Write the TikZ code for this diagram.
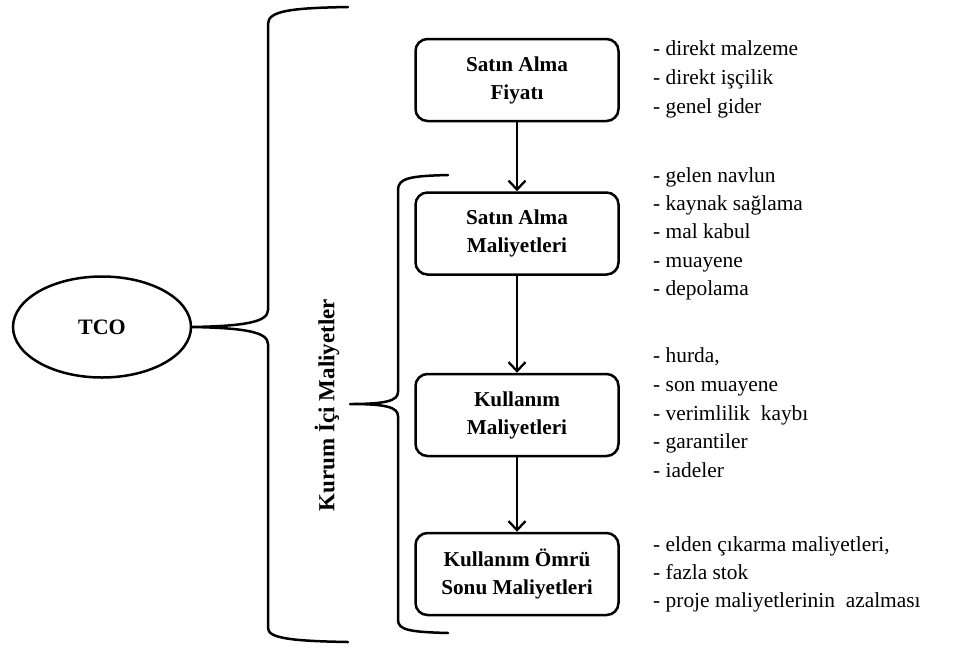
\documentclass[tikz,border=0pt]{standalone}
\usepackage{fontspec}
\setmainfont{Liberation Serif}
\usetikzlibrary{arrows.meta,shapes.geometric}
\begin{document}
\begin{tikzpicture}[x=1pt,y=-1pt,
  stage/.style={draw, line width=2.5pt, rounded corners=12pt,
    minimum width=203pt, minimum height=82pt, align=center, inner sep=0pt,
    font=\bfseries\fontsize{21.2pt}{28pt}\selectfont},
  flow/.style={line width=2.3pt,
    -{Straight Barb[length=9pt,width=17pt,line width=2.3pt]}},
  brace/.style={line width=2.5pt, line cap=round, line join=round},
  item/.style={anchor=base west, inner sep=0pt,
    font=\fontsize{21.4pt}{28pt}\selectfont},
]
\useasboundingbox (0,0) rectangle (971,646);

% root of the cost tree
\node[ellipse, draw, line width=2.5pt, minimum width=178pt, minimum height=101pt,
  inner sep=0pt, font=\bfseries\fontsize{22pt}{26pt}\selectfont] (tco) at (102,327) {TCO};

% outer brace spanning all stages
\coordinate (bigtop) at (348,7);
\coordinate (bigbot) at (348,642);
\draw[brace] (bigtop) .. controls (290,8) and (268,11) .. (268,24)
  -- (268,310) .. controls (268,322) and (245,326) .. (tco.east)
  .. controls (245,328) and (268,332) .. (268,344)
  -- (268,628) .. controls (268,638) and (290,641) .. (bigbot);

% internal costs group
\node[rotate=90, inner sep=0pt, font=\bfseries\fontsize{23pt}{28pt}\selectfont]
  (kurum) at (327,405) {Kurum İçi Maliyetler};
\coordinate (intop) at (448,175);
\coordinate (intip) at (350,404);
\coordinate (inbot) at (448,633);
\draw[brace] (intop) .. controls (410,176) and (398,178) .. (398,190)
  -- (398,392) .. controls (398,401) and (385,404) .. (intip)
  .. controls (385,404) and (398,407) .. (398,416)
  -- (398,620) .. controls (398,630) and (410,632) .. (inbot);

% stages
\node[stage] (b1) at (517,80)    {Satın Alma\\Fiyatı};
\node[stage] (b2) at (517,233.5) {Satın Alma\\Maliyetleri};
\node[stage] (b3) at (517,415)   {Kullanım\\Maliyetleri};
\node[stage] (b4) at (517,574)   {Kullanım Ömrü\\Sonu Maliyetleri};

\draw[flow] (b1) -- (b2);
\draw[flow] (b2) -- (b3);
\draw[flow] (b3) -- (b4);

% cost items beside each stage
\foreach \yy/\txt [count=\k] in {
  {55/direkt malzeme}, {84/direkt işçilik}, {113/genel gider},
  {182/gelen navlun}, {210/kaynak sağlama}, {238/mal kabul}, {267/muayene}, {295/depolama},
  {362/hurda,}, {391/son muayene}, {420/verimlilik~ kaybı}, {448/garantiler}, {477/iadeler},
  {551/elden çıkarma maliyetleri,}, {579/fazla stok}, {607/proje maliyetlerinin~ azalması}}
  \node[item] (i\k) at (653,\yy) {- \txt};
\end{tikzpicture}
\end{document}
